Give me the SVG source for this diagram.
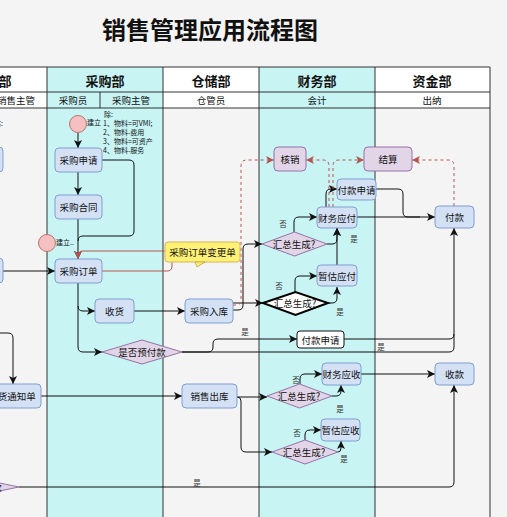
<svg xmlns="http://www.w3.org/2000/svg" width="507" height="517" viewBox="0 0 507 517">
<style>
text{font-family:"Noto Sans CJK SC","Noto Sans",sans-serif;dominant-baseline:central;text-anchor:middle;fill:#111}
.title{font-size:24px;font-weight:bold}
.dept{font-size:13px;font-weight:bold}
.role{font-size:9.5px}
.nt{font-size:9.5px}
.lbl{font-size:7.5px;fill:#333}
.note{font-size:7px;text-anchor:start}
.grid{stroke:#333;stroke-width:1;fill:none}
.blue{fill:#d4e1f5;stroke:#7f9fcf;stroke-width:1}
.purple{fill:#e1d5e7;stroke:#9673a6;stroke-width:1}
.start{fill:#f4c0c0;stroke:#c07070;stroke-width:1}
.c{fill:none;stroke:#111;stroke-width:1;marker-end:url(#ab)}
.cn{fill:none;stroke:#111;stroke-width:1}
.r{fill:none;stroke:#b85450;stroke-width:1}
.rd{fill:none;stroke:#b85450;stroke-width:1;stroke-dasharray:3,3;marker-end:url(#ar)}
</style>
<defs>
<marker id="ab" viewBox="0 0 8 8" refX="8" refY="4" markerWidth="8" markerHeight="8" markerUnits="userSpaceOnUse" orient="auto"><path d="M0,0 L8,4 L0,8 L2,4 z" fill="#111"/></marker>
<marker id="ar" viewBox="0 0 8 8" refX="8" refY="4" markerWidth="8" markerHeight="8" markerUnits="userSpaceOnUse" orient="auto"><path d="M0,0 L8,4 L0,8 L2,4 z" fill="#b85450"/></marker>
</defs>
<rect width="507" height="517" fill="#f4f4f4"/>
<text class="title" x="210" y="28">销售管理应用流程图</text>
<g id="lanes">
<rect x="47" y="67" width="116" height="450" fill="#c8f4f4"/>
<rect x="259" y="67" width="116" height="450" fill="#c8f4f4"/>
<rect x="0" y="67" width="47" height="41" fill="#fff"/>
<rect x="163" y="67" width="96" height="41" fill="#fff"/>
<rect x="375" y="67" width="115" height="41" fill="#fff"/>
<path class="grid" d="M0,67H490M0,92H490M0,108H490M47,67V517M163,67V517M259,67V517M375,67V517M490,67V517M100,92V108"/>
<text class="dept" x="5" y="80">部</text>
<text class="dept" x="105" y="80">采购部</text>
<text class="dept" x="211" y="80">仓储部</text>
<text class="dept" x="317" y="80">财务部</text>
<text class="dept" x="432" y="80">资金部</text>
<text class="role" x="16" y="100">销售主管</text>
<text class="role" x="73" y="100">采购员</text>
<text class="role" x="131" y="100">采购主管</text>
<text class="role" x="211" y="100">仓管员</text>
<text class="role" x="317" y="100">会计</text>
<text class="role" x="432" y="100">出纳</text>
</g>
<g id="connectors">
<path class="c" d="M78,133V148"/>
<path class="c" d="M78,172V195"/>
<path class="c" d="M78,219V259"/>
<path class="cn" d="M102,160H129Q134,160 134,165V231Q134,236 129,236H83Q78,236 78,241"/>
<path class="c" d="M3,271H55"/>
<path class="c" d="M78,283V306Q78,311 83,311H95"/>
<path class="c" d="M78,306V347Q78,352 83,352H102"/>
<path class="c" d="M134,311H185"/>
<path class="c" d="M233,303H263"/>
<path class="c" d="M233,310H238Q243,310 243,305V249Q243,244 248,244H262"/>
<path class="c" d="M294,232V222Q294,217 299,217H317"/>
<path class="c" d="M327,244H332Q337,244 337,239V228"/>
<path class="c" d="M337,265V228"/>
<path class="c" d="M295,292V281Q295,276 300,276H317"/>
<path class="c" d="M328,303H332Q337,303 337,298V287"/>
<path class="c" d="M326,207V194Q326,189 331,189H337"/>
<path class="c" d="M357,217H435"/>
<path class="cn" d="M376,189H398Q403,189 403,194V212Q403,217 408,217H420"/>
<path class="c" d="M182,352H208Q213,352 213,347V344Q213,339 218,339H297"/>
<path class="c" d="M182,352H449Q454,352 454,347V228"/>
<path class="cn" d="M344,339H449Q454,339 454,334"/>
<path class="c" d="M41,396H182"/>
<path class="c" d="M0,333H8Q13,333 13,338V384"/>
<path class="c" d="M237,397H267"/>
<path class="c" d="M237,397Q241,397 241,401V447Q241,452 246,452H272"/>
<path class="c" d="M300,384V379Q300,374 305,374H322"/>
<path class="c" d="M332,396H336Q341,396 341,391V385"/>
<path class="c" d="M361,374H435"/>
<path class="c" d="M305,440V435Q305,430 310,430H321"/>
<path class="c" d="M338,452Q341,452 341,448V441"/>
<path class="c" d="M19,487H449Q454,487 454,482V385"/>
<path class="r" d="M102,271H167Q172,271 172,266V262"/>
<path class="r" d="M165,251H83Q78,251 78,256V259" marker-end="url(#ar)"/>
<path class="rd" d="M233,305H236Q241,305 241,300V166Q241,160 247,160H274"/>
<path class="rd" d="M329,207V166Q329,160 323,160H306"/>
<path class="rd" d="M333,207V166Q333,160 339,160H364"/>
<path class="rd" d="M454,206V166Q454,160 448,160H412"/>
<text class="lbl" x="283" y="223">否</text>
<text class="lbl" x="354" y="238">是</text>
<text class="lbl" x="279" y="285">否</text>
<text class="lbl" x="340" y="311">是</text>
<text class="lbl" x="245" y="331">是</text>
<text class="lbl" x="381" y="346">是</text>
<text class="lbl" x="296" y="379">否</text>
<text class="lbl" x="340" y="408">是</text>
<text class="lbl" x="297" y="432">否</text>
<text class="lbl" x="344" y="458">是</text>
<text class="lbl" x="197" y="482">是</text>
</g>
<g id="left-note"><text class="note" x="-6" y="123">除:</text></g>
<g id="left-node-1"><rect class="blue" x="-40" y="147" width="43" height="25" rx="4"/></g>
<g id="left-node-2"><rect class="blue" x="-40" y="258" width="43" height="25" rx="4"/></g>
<g id="fahuo"><rect class="blue" x="-20" y="384" width="61" height="24" rx="4"/><text class="nt" x="12" y="396">发货通知单</text></g>
<g id="left-diamond"><polygon class="purple" points="-60,487 -20,479 19,487 -20,495"/><text class="nt" x="-22" y="487">是否预收款</text></g>
<g id="start"><circle class="start" cx="78" cy="124" r="8.5"/><text class="note" x="87" y="122">建立</text></g>
<g id="start2"><circle class="start" cx="47" cy="243" r="8.5"/><text class="note" x="56" y="242">建立..</text></g>
<g id="note"><text class="note" x="104" y="113.5">除:</text><text class="note" x="103" y="122.5">1、物料=可VMI;</text><text class="note" x="103" y="131.5">2、物料-费用</text><text class="note" x="103" y="140.5">3、物料=可资产</text><text class="note" x="103" y="149.5">4、物料-服务</text></g>
<g id="caigoushenqing"><rect class="blue" x="55" y="148" width="47" height="24" rx="4"/><text class="nt" x="78.5" y="160">采购申请</text></g>
<g id="caigouhetong"><rect class="blue" x="55" y="195" width="47" height="24" rx="4"/><text class="nt" x="78.5" y="207">采购合同</text></g>
<g id="caigoudingdan"><rect class="blue" x="55" y="259" width="47" height="24" rx="4"/><text class="nt" x="78.5" y="271">采购订单</text></g>
<g id="biangengdan"><rect x="165" y="242" width="75" height="20" rx="3" fill="#fff176" stroke="#d6b656"/><path d="M195,262 L205,262 L197,267 z" fill="#fff176" stroke="#c0a040" stroke-width="0.8"/><text class="nt" x="202.5" y="252">采购订单变更单</text></g>
<g id="shouhuo"><rect class="blue" x="95" y="299" width="39" height="24" rx="4"/><text class="nt" x="114.5" y="311">收货</text></g>
<g id="yufukuan"><polygon class="purple" points="102,352 142,340 182,352 142,364"/><text class="nt" x="142" y="352">是否预付款</text></g>
<g id="caigourk"><rect class="blue" x="185" y="299" width="48" height="24" rx="4"/><text class="nt" x="209" y="311">采购入库</text></g>
<g id="xiaoshouck"><rect class="blue" x="182" y="384" width="55" height="24" rx="4"/><text class="nt" x="209.5" y="396">销售出库</text></g>
<g id="hexiao"><rect class="purple" x="274" y="147" width="32" height="24" rx="4"/><text class="nt" x="290" y="159">核销</text></g>
<g id="jiesuan"><rect class="purple" x="364" y="147" width="48" height="24" rx="4"/><text class="nt" x="388" y="159">结算</text></g>
<g id="fukuanshenqing1"><rect class="blue" x="337" y="179" width="39" height="21" rx="4"/><text class="nt" x="356.5" y="189.5">付款申请</text></g>
<g id="caiwuyingfu"><rect class="blue" x="317" y="207" width="40" height="21" rx="4"/><text class="nt" x="337" y="217.5">财务应付</text></g>
<g id="huizong1"><polygon class="purple" points="262,244 294.5,232 327,244 294.5,256"/><text class="nt" x="294" y="244">汇总生成?</text></g>
<g id="zanguyingfu"><rect class="blue" x="317" y="265" width="40" height="21" rx="4"/><text class="nt" x="337" y="275.5">暂估应付</text></g>
<g id="huizong2"><polygon points="263,303 295.5,292 328,303 295.5,315" fill="#fff" stroke="#000" stroke-width="2"/><text class="nt" x="295" y="303">汇总生成?</text></g>
<g id="fukuanshenqing2"><rect x="297" y="331" width="47" height="17" rx="3" fill="#fff" stroke="#111"/><text class="nt" x="320.5" y="339.5">付款申请</text></g>
<g id="fukuan"><rect class="blue" x="435" y="206" width="39" height="22" rx="4"/><text class="nt" x="454.5" y="217">付款</text></g>
<g id="caiwuyingshou"><rect class="blue" x="322" y="363" width="39" height="22" rx="4"/><text class="nt" x="341.5" y="374">财务应收</text></g>
<g id="huizong3"><polygon class="purple" points="267,396 299.5,384 332,396 299.5,408"/><text class="nt" x="299" y="396">汇总生成?</text></g>
<g id="shoukuan"><rect class="blue" x="435" y="363" width="39" height="22" rx="4"/><text class="nt" x="454.5" y="374">收款</text></g>
<g id="zanguyingshou"><rect class="blue" x="321" y="419" width="39" height="22" rx="4"/><text class="nt" x="340.5" y="430">暂估应收</text></g>
<g id="huizong4"><polygon class="purple" points="272,452 305,440 338,452 305,464"/><text class="nt" x="304" y="452">汇总生成?</text></g>
</svg>
